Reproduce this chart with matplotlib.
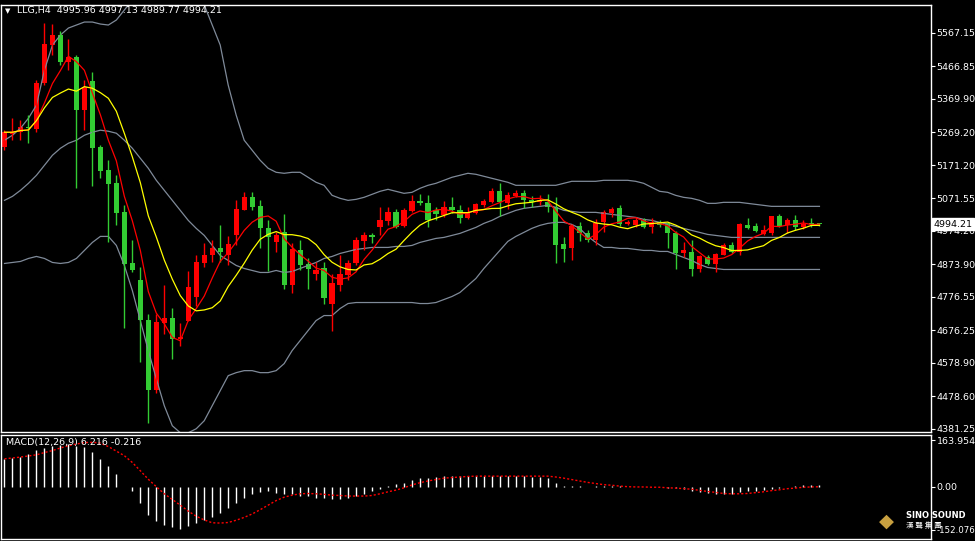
import numpy as np
import pandas as pd
import matplotlib
matplotlib.use("Agg")
import matplotlib.pyplot as plt

opens = [5225,5264,5270,5285,5279,5417,5531,5561,5480,5495,5336,5423,5225,5156,5117,5030,4877,4826,4709,4499,
         4700,4715,4652,4706,4778,4877,4901,4922,4901,4961,5036,5075,5048,4982,4940,4970,4811,4916,4874,4844,
         4862,4757,4811,4841,4877,4943,4961,4985,5003,5030,4988,5033,5063,5057,5036,5021,5045,5036,5012,5027,
         5051,5060,5093,5057,5078,5087,5066,5060,5060,5045,4934,4922,4988,4967,4946,5000,5027,5042,4994,4991,
         5006,4985,5000,4997,4967,4907,4910,4859,4895,4874,4901,4931,4910,4991,4988,4964,4967,5018,4991,5006,
         4985,4997,4995.96]
highs = [5276,5312,5306,5321,5426,5597,5594,5573,5549,5501,5426,5450,5231,5186,5141,5051,4946,4865,4727,4727,
         4811,4745,4700,4853,4901,4937,4946,4991,4958,5066,5090,5090,5066,5006,4970,5024,4937,4946,4892,4880,
         4880,4844,4901,4886,4955,4970,4967,5045,5045,5039,5042,5081,5084,5081,5045,5063,5075,5051,5045,5057,
         5069,5102,5117,5090,5096,5096,5078,5081,5084,5075,4955,4994,5000,4976,5009,5036,5045,5051,5006,5015,
         5012,5012,5006,5000,4973,4940,4946,4901,4901,4907,4937,4940,4997,5012,4997,4991,5018,5024,5012,5021,
         5006,5012,4997.13]
lows = [5216,5246,5246,5237,5270,5411,5501,5471,5456,5102,5276,5108,5132,4940,4991,4685,4850,4583,4400,4490,
        4667,4592,4631,4706,4751,4865,4880,4880,4871,4931,5036,5036,4922,4853,4910,4802,4790,4856,4802,4826,
        4757,4676,4796,4826,4871,4916,4937,4961,4991,4982,4985,5030,5051,4985,5006,5015,5027,4997,5009,5024,
        5045,5057,5018,5039,5075,5042,5045,5051,5030,4877,4880,4886,4943,4940,4931,4970,5015,4988,4991,4985,
        4982,4967,4985,4922,4859,4895,4838,4850,4871,4850,4901,4907,4901,4979,4970,4961,4961,4985,4967,4976,
        4979,4985,4989.77]
closes = [5270,5270,5285,5282,5417,5534,5561,5480,5495,5336,5405,5222,5153,5114,5027,4874,4856,4709,4499,4703,
          4715,4652,4658,4805,4880,4901,4922,4910,4934,5039,5075,5045,4982,4955,4961,4811,4919,4871,4859,4856,
          4775,4817,4844,4877,4946,4961,4955,5006,5030,4985,5036,5063,5057,5006,5024,5045,5036,5012,5027,5054,
          5063,5093,5060,5081,5087,5066,5060,5066,5045,4931,4919,4988,4967,4946,4997,5030,5039,4994,5000,5006,
          4985,5000,4991,4967,4907,4916,4859,4898,4874,4904,4931,4910,4994,4982,4973,4976,5018,4988,5006,4985,
          4994,4994,4994.21]

bb_upper = [5246,5261,5282,5312,5351,5456,5531,5561,5582,5591,5600,5600,5594,5591,5606,5636,5666,5711,5741,5756,
            5771,5756,5726,5696,5681,5651,5591,5531,5411,5321,5246,5216,5186,5162,5150,5147,5150,5150,5135,5120,
            5111,5081,5072,5066,5069,5075,5084,5093,5099,5093,5087,5090,5102,5111,5117,5126,5135,5141,5147,5144,
            5138,5132,5126,5120,5111,5111,5111,5111,5111,5111,5117,5123,5123,5123,5123,5126,5126,5126,5126,5123,
            5117,5105,5093,5090,5081,5075,5072,5066,5057,5057,5060,5060,5060,5057,5054,5051,5048,5048,5048,5048,
            5048,5048,5048]
bb_mid = [5066,5078,5096,5117,5141,5171,5201,5222,5237,5246,5261,5270,5276,5273,5267,5246,5222,5192,5162,5126,
          5096,5066,5036,5006,4982,4961,4931,4901,4886,4871,4862,4856,4850,4850,4856,4850,4853,4862,4871,4880,
          4892,4898,4907,4913,4919,4922,4925,4925,4925,4928,4928,4931,4940,4946,4952,4955,4961,4967,4976,4985,
          4997,5006,5018,5027,5036,5042,5045,5048,5051,5045,5036,5033,5030,5030,5030,5027,5024,5021,5018,5015,
          5009,5006,5000,4994,4988,4982,4976,4970,4964,4961,4958,4955,4955,4955,4955,4955,4955,4955,4955,4955,
          4955,4955,4955]
bb_lower = [4877,4880,4883,4892,4898,4892,4880,4877,4880,4892,4916,4940,4958,4958,4931,4871,4796,4706,4616,4532,
            4451,4391,4370,4370,4382,4406,4451,4496,4541,4550,4556,4556,4550,4550,4556,4577,4616,4646,4676,4706,
            4721,4721,4742,4757,4760,4760,4760,4760,4760,4760,4760,4760,4757,4757,4760,4769,4778,4790,4811,4832,
            4862,4889,4916,4943,4958,4970,4982,4991,4997,5000,5000,4994,4982,4958,4940,4925,4925,4922,4922,4919,
            4916,4916,4913,4913,4904,4895,4886,4874,4865,4862,4859,4859,4859,4859,4859,4859,4859,4859,4859,4859,
            4859,4859,4859]

macd_main = [97,101,105,115,129,136,144,148,150,144,139,121,97,73,44,0,-15,-57,-101,-122,
             -134,-143,-148,-140,-128,-116,-108,-92,-75,-57,-39,-27,-19,-15,-21,-27,-27,-33,-33,-39,
             -39,-43,-43,-39,-33,-27,-15,-7,2,8,14,22,30,32,34,36,36,36,38,38,
             38,38,38,37,37,37,34,34,32,14,2,1,1,0,2,2,1,1,0,0,
             0,-1,-1,-4,-6,-9,-15,-18,-21,-25,-27,-25,-19,-15,-15,-12,-9,-6,-1,1,
             6,6,6.216]
macd_signal = [98,101,104,108,112,120,127,136,144,150,155,156,153,141,125,109,85,56,26,0,
               -25,-45,-65,-86,-104,-117,-127,-128,-126,-118,-108,-96,-81,-65,-49,-37,-30,-25,-24,-25,
               -27,-30,-31,-33,-33,-33,-31,-25,-18,-12,-4,6,14,20,25,30,32,34,36,37,
               37,37,37,37,37,37,37,37,37,34,30,25,20,15,11,7,5,2,0,-1,
               -1,-2,-2,-4,-5,-7,-9,-13,-17,-20,-24,-25,-25,-24,-21,-18,-14,-11,-7,-5,
               -2,-1,-0.216]

price_ticks = [5567.15,5466.85,5369.90,5269.20,5171.20,5071.55,4974.20,4873.90,4776.55,4676.25,4578.90,4478.60,4381.25]

o = np.array(opens); h = np.array(highs); l = np.array(lows); c = np.array(closes)
n = len(c); x = np.arange(n)
cs = pd.Series(c)
ma_fast = cs.rolling(5, min_periods=1).mean()
ma_slow = cs.rolling(10, min_periods=1).mean()

W, H = 975, 541
fig = plt.figure(figsize=(W/100, H/100), dpi=100, facecolor='black')
ax = fig.add_axes([0.5/W, 1-432/H, 930/W, 427/H], facecolor='black')
ax2 = fig.add_axes([0.5/W, 1-539/H, 930/W, 104/H], facecolor='black')
xl = (-0.5, 115.9)
gray = '#7f8a99'
for a in (ax, ax2):
    a.set_xlim(*xl)
    for s in a.spines.values():
        s.set_color('white'); s.set_linewidth(1)
    a.tick_params(axis='x', bottom=False, labelbottom=False)
    a.yaxis.tick_right()
    a.tick_params(axis='y', colors='white', labelsize=6.8, length=3, direction='out', pad=1.5)

ax.plot(x, bb_upper, color=gray, lw=0.9)
ax.plot(x, bb_mid, color=gray, lw=0.9)
ax.plot(x, bb_lower, color=gray, lw=0.9)
for i in range(n):
    col = '#ff0000' if c[i] >= o[i] and i != n-1 else '#33cc33'
    ax.vlines(x[i], l[i], h[i], color=col, lw=1)
    lo, hi = min(o[i], c[i]), max(o[i], c[i])
    if hi - lo < 3:
        hi = lo + 3
    ax.bar(x[i], hi-lo, bottom=lo, width=0.65, color=col, linewidth=0)
ax.plot(x, ma_fast, color='#ff0000', lw=0.9)
ax.plot(x, ma_slow, color='#ffff00', lw=0.9)

ax.set_ylim(5567.15 - (432-33)*2.9947, 5567.15 + 28*2.9947)
ax.set_yticks(price_ticks)
ax.set_yticklabels([f"{t:.2f}" for t in price_ticks])
fig.text(17/W, 1-11/H, "LLG,H4  4995.96 4997.13 4989.77 4994.21", color='white', fontsize=6.8, va='center')
fig.text(8/W, 1-11/H, "▼", color='white', fontsize=5, va='center', ha='center')
ax.annotate("4994.21", xy=(1.0, 4994.21), xycoords=('axes fraction', 'data'), xytext=(2, 0),
            textcoords='offset points', ha='left', va='center', fontsize=6.8, color='black', zorder=10,
            bbox=dict(boxstyle='square,pad=0.15', fc='white', ec='white'), annotation_clip=False)

ax2.vlines(x, 0, macd_main, color='white', lw=1)
ax2.plot(x, macd_signal, color='#ff0000', lw=1, ls=(0, (1.5, 1.5)))
ax2.set_ylim(-152.076 - 9*3.551, 163.954 + 5*3.551)
ax2.set_yticks([163.954, 0.0, -152.076])
ax2.set_yticklabels(["163.954", "0.00", "-152.076"])
ax2.get_yticklabels()[2].set_fontsize(6.2)
fig.text(6/W, 1-443/H, "MACD(12,26,9) 6.216 -0.216", color='white', fontsize=6.8, va='center')

fig.text(906/W, 1-515/H, "SINO SOUND", color='white', fontsize=6, fontweight='bold', va='center')
fig.text(906/W, 1-526/H, "漢 聲 集 團", color='white', fontsize=5.5, va='center',
         family=['Noto Sans CJK TC', 'DejaVu Sans'])
fig.text(886/W, 1-521/H, "◆", color='#c8a040', fontsize=14, ha='center', va='center')

fig.savefig("out.png", dpi=100, facecolor='black')
